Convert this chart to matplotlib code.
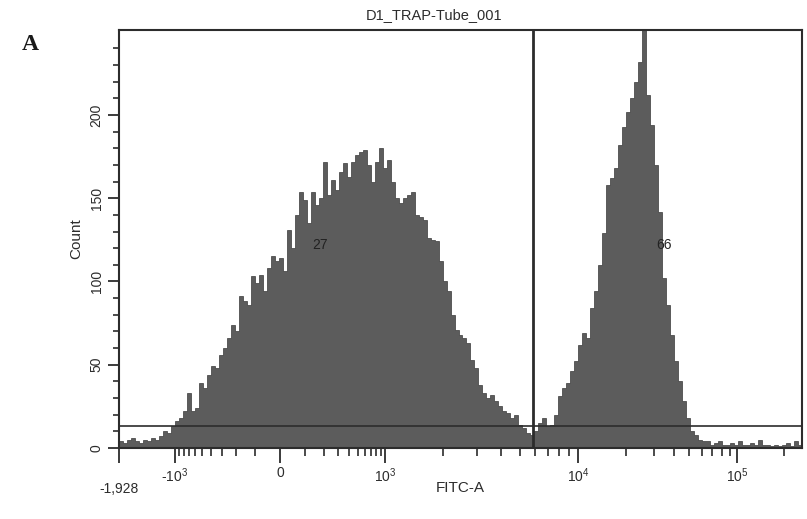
import numpy as np
import matplotlib
matplotlib.use("Agg")
import matplotlib.pyplot as plt
from matplotlib.ticker import FixedLocator, FixedFormatter

plt.rcParams["font.family"] = ["Liberation Sans", "DejaVu Sans"]
plt.rcParams["mathtext.fontset"] = "custom"
plt.rcParams["mathtext.rm"] = "Liberation Sans"
plt.rcParams["mathtext.it"] = "Liberation Sans"

# biexponential-like display: FITC value anchors and where they sit on the axis (channel units)
scale_values = [-1928, -1000, 0, 1000, 10000, 100000, 262143]
scale_channels = [0, 56, 161, 266, 459, 618, 683]
cofactor = 150.0

# counts per display channel (equal-width channels across the axis)
counts = [4, 3, 5, 6, 4, 3, 5, 4, 6, 5,
          7, 10, 9, 13, 16, 18, 22, 33, 22, 24,
          39, 36, 44, 49, 48, 56, 60, 66, 74, 70,
          91, 88, 86, 103, 99, 104, 94, 108, 115, 112,
          114, 106, 131, 120, 140, 154, 149, 135, 154, 146,
          150, 172, 152, 161, 155, 166, 171, 163, 172, 176,
          178, 179, 170, 160, 172, 180, 168, 173, 160, 150,
          147, 150, 152, 154, 140, 139, 137, 126, 125, 124,
          112, 100, 94, 80, 71, 68, 66, 63, 53, 48,
          38, 33, 30, 32, 28, 25, 22, 21, 18, 20,
          14, 12, 9, 8, 10, 15, 18, 13, 14, 20,
          31, 36, 39, 46, 52, 62, 69, 66, 84, 94,
          110, 129, 158, 162, 168, 182, 193, 202, 210, 220,
          232, 255, 212, 194, 170, 142, 102, 86, 68, 52,
          40, 28, 18, 10, 8, 5, 4, 4, 2, 3,
          4, 2, 2, 3, 2, 4, 2, 2, 3, 2,
          5, 2, 2, 1, 2, 1, 2, 3, 1, 4, 2]

x_major = [-1928, -1000, 0, 1000, 10000, 100000]
x_major_labels = ["\n-1,928", r"-$10^3$", "0", r"$10^3$", r"$10^4$", r"$10^5$"]
x_minor = ([-900, -800, -700, -600, -500, -400, -300, -200, -100,
            100, 200, 300, 400, 500, 600, 700, 800, 900,
            2000, 3000, 4000, 5000, 6000, 7000, 8000, 9000,
            20000, 30000, 40000, 50000, 60000, 70000, 80000, 90000, 200000])
y_max = 251

gate_split = 5860
gate_count = 13
gate_labels = ["27", "66"]
gate_label_x = [175, 34750]
gate_label_y = 122

title = "D1_TRAP-Tube_001"

U = np.arcsinh(np.array(scale_values) / cofactor)
P = np.array(scale_channels, dtype=float)


def forward(x):
    return np.interp(np.arcsinh(np.asarray(x, dtype=float) / cofactor), U, P)


def inverse(p):
    return cofactor * np.sinh(np.interp(np.asarray(p, dtype=float), P, U))


ink = "#2c2c2c"

fig = plt.figure(figsize=(8.07, 5.19), dpi=100)
ax = fig.add_axes([119 / 807, 1 - 448 / 519, 683 / 807, 418 / 519])
ax.set_xscale("function", functions=(forward, inverse))
ax.set_xlim(scale_values[0], scale_values[-1])
ax.set_ylim(0, y_max)

edges = inverse(np.linspace(P[0], P[-1], len(counts) + 1))
ax.stairs(counts, edges, fill=True, facecolor="#5c5c5c", edgecolor="#3a3a3a", linewidth=0.5)

ax.axvline(gate_split, color=ink, linewidth=2.0)
ax.axhline(gate_count, color=ink, linewidth=1.2)
for lab, gx in zip(gate_labels, gate_label_x):
    ax.text(gx, gate_label_y, lab, fontsize=10, color="#222222", ha="center", va="center")

ax.xaxis.set_major_locator(FixedLocator(x_major))
ax.xaxis.set_major_formatter(FixedFormatter(x_major_labels))
ax.xaxis.set_minor_locator(FixedLocator(x_minor))
ax.yaxis.set_major_locator(FixedLocator([0, 50, 100, 150, 200]))
ax.yaxis.set_minor_locator(FixedLocator([10, 20, 30, 40, 60, 70, 80, 90, 110, 120, 130, 140,
                                         160, 170, 180, 190, 210, 220, 230, 240]))

ax.tick_params(axis="x", which="major", length=11, width=1.3, color=ink, pad=2,
               labelsize=10, labelcolor=ink)
ax.tick_params(axis="x", which="minor", length=6, width=1.2, color=ink)
ax.tick_params(axis="y", which="major", length=8, width=1.3, color=ink, pad=3,
               labelsize=10, labelcolor=ink, labelrotation=90)
ax.tick_params(axis="y", which="minor", length=4, width=1.2, color=ink)
for lbl in ax.get_yticklabels():
    lbl.set_va("center")

for s in ax.spines.values():
    s.set_color(ink)
    s.set_linewidth(1.5)

ax.set_xlabel("FITC-A", fontsize=11, color=ink)
ax.xaxis.set_label_coords(0.5, -0.078)
ax.set_ylabel("Count", fontsize=11, color=ink)
ax.yaxis.set_label_coords(-0.052, 0.5)

fig.text(434 / 807, 1 - 15 / 519, title, fontsize=10.5, color=ink, ha="center", va="center")
fig.text(30 / 807, 1 - 45 / 519, "A", fontsize=17, fontweight="bold", family="Liberation Serif",
         color="#1a1a1a", ha="center", va="center")

fig.savefig("out.png", dpi=100)
